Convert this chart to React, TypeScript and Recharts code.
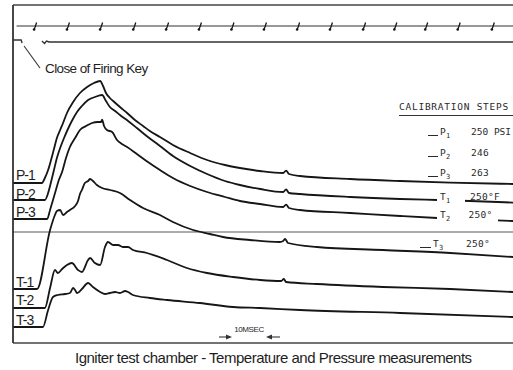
import { ComposedChart, Line, Scatter, XAxis, YAxis, ReferenceLine } from "recharts";

document.body.style.margin = "0";

// time in ms (x), trace deflection on the record in mm (y)
const msTicks = [10, 20, 30, 40, 50, 60, 70, 80, 90, 100, 110, 120, 130, 140, 150];
const timingMarks = [8.5, 18.6, 28.8, 39.0, 49.1, 59.2, 69.2, 79.2, 89.4, 99.5, 109.7, 119.3, 128.8, 138.8, 149.3];
const timingTrace: [number, number][] = [[2.8, 158.5], [155.5, 158.5]];
const keyBefore: [number, number][] = [[1.7, 151.5], [4.2, 151.5], [4.5, 150]];
const keyAfter: [number, number][] = [[10.6, 151], [11.4, 149.8], [12.0, 151], [12.8, 150.5], [155.5, 150.5]];
const chamberZero = 55.5;

const p1: [number, number][] = [
  [1.7, 80], [10.6, 80], [11.5, 82.5], [12.5, 86.5], [13.4, 91.5], [14.3, 97], [15.2, 102.5], [16.2, 106.5],
  [17.1, 110], [18.3, 115], [20.2, 120.5], [22.3, 125], [24.5, 128], [26.6, 130], [28.5, 131], [29.4, 128.5],
  [30.3, 125], [31.5, 122.5], [32.5, 121], [34.6, 118], [36.8, 115], [39.2, 111.5], [41.7, 108.5], [43.8, 106],
  [46.9, 103], [50.9, 99], [56.2, 95], [61.4, 91.5], [66.9, 89], [71.5, 87.5], [77.7, 86], [84.8, 85],
  [85.7, 86.2], [86.6, 84.5], [90.0, 83.5], [105.4, 82], [120.8, 81], [136.2, 80.2], [155.5, 79.5],
];
const p2: [number, number][] = [
  [1.7, 71.5], [11.5, 71.5], [12.5, 75], [13.4, 80.5], [14.3, 86.5], [15.2, 92.5], [16.2, 97.5], [17.4, 102.5],
  [18.6, 107], [19.8, 111], [21.4, 115.5], [22.9, 118.5], [24.8, 121.5], [26.9, 123], [29.1, 124], [30.3, 121],
  [31.5, 118], [33.1, 116], [34.6, 114], [37.1, 111], [39.8, 107.5], [43.2, 103], [46.9, 98.5], [50.9, 93.5],
  [56.2, 88.5], [61.4, 84.5], [66.9, 81], [71.5, 79], [77.7, 77], [84.8, 75.5], [85.7, 76.8], [86.6, 75],
  [90.0, 74.5], [105.4, 73], [120.8, 72], [132.2, 71.5], [142.3, 71], [155.5, 70.2],
];
const p3: [number, number][] = [
  [1.7, 62], [12.2, 62], [13.1, 66.5], [14.0, 71.5], [14.9, 76.5], [15.8, 81.5], [16.8, 85.5], [18.0, 92.5],
  [19.2, 98], [20.8, 102.5], [22.3, 106.5], [24.2, 108.5], [26.0, 110], [27.8, 110.5], [28.8, 110.5],
  [29.1, 111.7], [29.7, 108.5], [30.6, 106.5], [32.2, 105.5], [33.7, 101.5], [35.2, 99.5], [36.8, 98],
  [39.8, 94.5], [43.2, 90.5], [46.9, 86.5], [50.9, 82.5], [56.2, 78.5], [61.4, 75.5], [66.9, 73], [71.5, 71],
  [77.7, 69.5], [84.8, 68], [85.7, 69.2], [86.6, 67.5], [90.0, 66.5], [105.4, 65], [120.8, 63.5], [132.2, 62.5],
  [142.3, 61.8], [155.5, 61],
];
const t1: [number, number][] = [
  [1.7, 27], [9.1, 27], [13.1, 56.5], [14.6, 64], [15.2, 66], [16.2, 66.5], [17.1, 64], [18.3, 65.5],
  [19.2, 66.5], [20.8, 68.5], [21.7, 71], [22.3, 74.5], [22.9, 76.5], [23.8, 80], [24.8, 81], [25.4, 82],
  [26.3, 81], [27.5, 79], [29.1, 77.5], [31.5, 76.5], [34.6, 75], [37.7, 71.5], [41.7, 67.5], [46.9, 64],
  [50.9, 60.5], [57.1, 56.5], [62.3, 54.5], [66.3, 53], [74.6, 51.5], [83.8, 50.5], [84.8, 51], [85.4, 52],
  [86.3, 50], [95.2, 48], [115.5, 46.5], [136.2, 45], [155.5, 43],
];
const t2: [number, number][] = [
  [1.7, 17.5], [11.5, 17.5], [13.1, 27.5], [14.6, 36.5], [15.5, 35], [16.8, 37], [18.3, 39], [19.8, 40],
  [21.7, 36.5], [22.9, 35.5], [24.8, 41.5], [25.4, 42.5], [26.9, 40], [28.5, 39], [30.0, 48], [30.9, 50.5],
  [32.5, 49], [34.0, 49], [35.5, 48], [37.1, 48], [38.6, 46.5], [42.9, 45], [49.1, 41.5], [55.2, 37.5],
  [61.4, 35], [69.4, 33], [77.7, 31.5], [84.2, 31], [85.0, 32], [85.7, 30.5], [95.2, 29.5], [115.5, 28],
  [136.2, 27], [155.5, 25.5],
];
const t3: [number, number][] = [
  [1.7, 8], [10.9, 8], [12.5, 16.5], [14.0, 23], [15.5, 24], [17.7, 24.5], [19.2, 25], [20.2, 27.5],
  [20.8, 26.5], [21.4, 25], [22.9, 27], [24.8, 30], [26.3, 28], [28.5, 25.5], [30.0, 24.5], [31.5, 25],
  [33.1, 25.5], [34.6, 25], [36.2, 26], [37.1, 25.5], [38.6, 24], [43.8, 22.5], [49.1, 21.5], [59.2, 20],
  [69.4, 18], [77.7, 17.5], [90.0, 16.5], [120.8, 15], [155.5, 13],
];

const ink = "#161616";
const frame = "#444";
const pts = (a: [number, number][]) => a.map(([t, v]) => ({ t, v }));

const TimingMark = (props: any) => {
  const { cx, cy } = props;
  return (
    <g>
      <path d={`M${cx + 1.5},${cy - 3.5} L${cx},${cy + 1} L${cx - 1},${cy + 3.5}`} stroke={ink} strokeWidth={1.3} fill="none" />
      <circle cx={cx - 1} cy={cy + 3.5} r={1.3} fill={ink} />
    </g>
  );
};

const sans = "'Liberation Sans', Arial, sans-serif";
const mono = "'DejaVu Sans Mono', monospace";

function T({ x, y, size, children, style }: any) {
  return (
    <div
      style={{
        position: "absolute",
        left: x,
        top: y,
        fontSize: size,
        lineHeight: 1,
        whiteSpace: "nowrap",
        color: "#1e1e1e",
        fontFamily: sans,
        ...style,
      }}
    >
      {children}
    </div>
  );
}

const Sub = ({ c }: { c: string }) => (
  <span style={{ fontSize: 7, position: "relative", top: 3 }}>{c}</span>
);

const Dash = ({ w = 10 }: { w?: number }) => (
  <span
    style={{
      display: "inline-block",
      width: w,
      borderTop: "1.3px solid #2a2a2a",
      verticalAlign: "-1px",
      marginRight: 2,
    }}
  />
);

export default function App() {
  const traceProps = {
    dataKey: "v",
    type: "monotone" as const,
    stroke: ink,
    strokeWidth: 1.8,
    dot: false,
    activeDot: false,
    isAnimationActive: false,
  };
  const calib = { fontFamily: mono, letterSpacing: 0.3, color: "#2a2a2a" };
  return (
    <div style={{ position: "relative", width: 513, height: 370, background: "#fff", overflow: "hidden" }}>
      <ComposedChart width={513} height={370} margin={{ top: 5, right: 0, bottom: 27, left: 13 }}>
        <XAxis
          dataKey="t"
          type="number"
          domain={[1.7, 155.5]}
          allowDataOverflow
          mirror
          ticks={msTicks}
          tick={false}
          tickSize={6}
          tickLine={{ stroke: frame, strokeWidth: 1.3 }}
          axisLine={{ stroke: frame, strokeWidth: 1.6 }}
        />
        <XAxis
          xAxisId="top"
          dataKey="t"
          type="number"
          orientation="top"
          domain={[1.7, 155.5]}
          allowDataOverflow
          mirror
          ticks={msTicks}
          tick={false}
          tickSize={7}
          tickLine={{ stroke: frame, strokeWidth: 1.3 }}
          axisLine={{ stroke: frame, strokeWidth: 1.6 }}
        />
        <YAxis
          type="number"
          domain={[0, 169]}
          allowDataOverflow
          mirror
          tick={false}
          tickLine={false}
          axisLine={{ stroke: "#333", strokeWidth: 1.8 }}
        />
        <ReferenceLine y={chamberZero} stroke="#5a5a5a" strokeWidth={1.2} />
        <ReferenceLine
          segment={[
            { x: 5.1, y: 148.5 },
            { x: 10, y: 137.5 },
          ]}
          stroke="#333"
          strokeWidth={1.1}
        />
        <Line data={pts(timingTrace)} name="timing" {...traceProps} stroke="#333" strokeWidth={1.2} type="linear" />
        <Scatter
          data={timingMarks.map((t) => ({ t, v: timingTrace[0][1] }))}
          dataKey="v"
          shape={TimingMark}
          isAnimationActive={false}
        />
        <Line data={pts(keyBefore)} name="key0" {...traceProps} stroke="#333" strokeWidth={1.4} type="linear" />
        <Line data={pts(keyAfter)} name="key1" {...traceProps} stroke="#333" strokeWidth={1.4} type="linear" />
        <Line data={pts(p1)} name="P-1" {...traceProps} />
        <Line data={pts(p2)} name="P-2" {...traceProps} />
        <Line data={pts(p3)} name="P-3" {...traceProps} />
        <Line data={pts(t1)} name="T-1" {...traceProps} />
        <Line data={pts(t2)} name="T-2" {...traceProps} />
        <Line data={pts(t3)} name="T-3" {...traceProps} />
      </ComposedChart>

      <svg width={513} height={370} style={{ position: "absolute", left: 0, top: 0, pointerEvents: "none" }}>
        <g stroke="#333" strokeWidth={1.1} fill="#333">
          <line x1={219} y1={337} x2={230} y2={337} />
          <polygon points="232,337 226,334.5 226,339.5" stroke="none" />
          <line x1={268} y1={337} x2={280} y2={337} />
          <polygon points="266,337 272,334.5 272,339.5" stroke="none" />
        </g>
      </svg>

      <T x={45} y={62} size={13.5} style={{ letterSpacing: -0.6 }}>Close of Firing Key</T>

      <T x={16} y={168} size={14} style={{ letterSpacing: -1 }}>P-1</T>
      <T x={16} y={187} size={14} style={{ letterSpacing: -1 }}>P-2</T>
      <T x={16} y={205} size={14} style={{ letterSpacing: -1 }}>P-3</T>
      <T x={16} y={275} size={14} style={{ letterSpacing: -1 }}>T-1</T>
      <T x={16} y={293} size={14} style={{ letterSpacing: -1 }}>T-2</T>
      <T x={16} y={313} size={14} style={{ letterSpacing: -1 }}>T-3</T>

      <T x={399} y={102} size={9.5} style={{ ...calib, letterSpacing: 0.75, borderBottom: "1.6px solid #333", paddingBottom: 3, width: 114 }}>
        CALIBRATION STEPS
      </T>
      <T x={428} y={127} size={9.5} style={calib}><Dash />P<Sub c="1" /></T>
      <T x={471} y={127} size={9.5} style={{ ...calib, letterSpacing: 0 }}>250 PSI</T>
      <T x={428} y={148} size={9.5} style={calib}><Dash />P<Sub c="2" /></T>
      <T x={471} y={148} size={9.5} style={calib}>246</T>
      <T x={428} y={168} size={9.5} style={calib}><Dash />P<Sub c="3" /></T>
      <T x={471} y={168} size={9.5} style={calib}>263</T>
      <T x={437} y={192} size={9.5} style={{ ...calib, background: "#fff", width: 25, paddingLeft: 3, paddingBottom: 6 }}>
        T<Sub c="1" />
      </T>
      <T x={470} y={192} size={9.5} style={calib}>250°F</T>
      <T x={437} y={210} size={9.5} style={{ ...calib, background: "#fff", width: 58, paddingLeft: 3, paddingBottom: 7 }}>
        T<Sub c="2" />
        <span style={{ marginLeft: 18 }}>250°</span>
      </T>
      <T x={420} y={239} size={9.5} style={calib}><Dash w={11} />T<Sub c="3" /></T>
      <T x={466} y={239} size={9.5} style={calib}>250°</T>

      <T x={229} y={326} size={8} style={{ width: 40, textAlign: "center", letterSpacing: -0.4 }}>10MSEC</T>

      <T x={75} y={350} size={15} style={{ letterSpacing: -0.5 }}>
        Igniter test chamber - Temperature and Pressure measurements
      </T>
    </div>
  );
}
